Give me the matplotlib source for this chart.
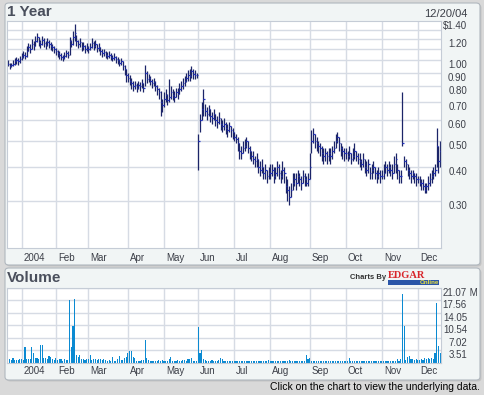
import matplotlib.pyplot as plt
from matplotlib.patches import FancyBboxPatch, Rectangle
from matplotlib.ticker import NullLocator
import numpy as np

W, H = 484, 395

# daily bars, 19 Dec 2003 .. 20 Dec 2004 (one row per month)
price_hi = [
    [1.00, 0.98, 0.98, 1.00, 1.02, 1.03, 1.02, 1.04],
    [1.06, 1.08, 1.07, 1.13, 1.16, 1.15, 1.20, 1.18, 1.23, 1.26, 1.22, 1.19, 1.23, 1.21, 1.18, 1.21, 1.19, 1.17, 1.15, 1.13],
    [1.11, 1.09, 1.08, 1.06, 1.05, 1.07, 1.09, 1.08, 1.22, 1.19, 1.28, 1.36, 1.24, 1.19, 1.21, 1.17, 1.17, 1.14, 1.16],
    [1.13, 1.16, 1.21, 1.18, 1.19, 1.15, 1.16, 1.12, 1.10, 1.10, 1.08, 1.07, 1.08, 1.06, 1.05, 1.06, 1.04, 1.03, 1.01, 1.02, 0.99, 0.96, 0.93],
    [0.90, 0.88, 0.86, 0.84, 0.84, 0.82, 0.84, 0.83, 0.85, 0.82, 0.96, 0.91, 0.89, 0.87, 0.85, 0.86, 0.84, 0.81, 0.79, 0.77, 0.72],
    [0.76, 0.78, 0.75, 0.85, 0.80, 0.78, 0.77, 0.79, 0.79, 0.82, 0.84, 0.86, 0.87, 0.90, 0.92, 0.93, 0.95, 0.93, 0.92, 0.90],
    [0.53, 0.63, 0.70, 0.78, 0.69, 0.67, 0.68, 0.66, 0.64, 0.66, 0.63, 0.62, 0.64, 0.61, 0.60, 0.61, 0.59, 0.58, 0.59, 0.57, 0.56],
    [0.54, 0.53, 0.52, 0.49, 0.48, 0.50, 0.51, 0.52, 0.50, 0.48, 0.46, 0.46, 0.44, 0.45, 0.43, 0.42, 0.43, 0.40, 0.41, 0.39, 0.40],
    [0.41, 0.41, 0.40, 0.40, 0.42, 0.41, 0.39, 0.42, 0.40, 0.37, 0.36, 0.34, 0.35, 0.38, 0.38, 0.38, 0.39, 0.38, 0.37, 0.39, 0.38, 0.37, 0.38],
    [0.45, 0.55, 0.56, 0.53, 0.52, 0.50, 0.49, 0.48, 0.47, 0.47, 0.46, 0.47, 0.47, 0.48, 0.50, 0.53, 0.54, 0.52, 0.49, 0.48, 0.47],
    [0.47, 0.46, 0.48, 0.45, 0.47, 0.49, 0.46, 0.45, 0.45, 0.43, 0.45, 0.43, 0.42, 0.43, 0.40, 0.41, 0.42, 0.40, 0.39, 0.40, 0.39],
    [0.39, 0.41, 0.42, 0.41, 0.42, 0.41, 0.41, 0.44, 0.45, 0.41, 0.39, 0.39, 0.76, 0.44, 0.43, 0.41, 0.40, 0.39, 0.39, 0.38, 0.38],
    [0.37, 0.37, 0.36, 0.36, 0.35, 0.35, 0.37, 0.38, 0.39, 0.40, 0.41, 0.56, 0.48, 0.50],
]
price_lo = [
    [0.95, 0.93, 0.94, 0.95, 0.96, 0.97, 0.96, 0.98],
    [1.00, 1.02, 1.01, 1.03, 1.08, 1.06, 1.10, 1.09, 1.13, 1.17, 1.13, 1.11, 1.14, 1.12, 1.10, 1.13, 1.11, 1.09, 1.08, 1.06],
    [1.05, 1.03, 1.01, 1.00, 0.99, 1.01, 1.03, 1.02, 1.05, 1.12, 1.14, 1.18, 1.13, 1.11, 1.12, 1.08, 1.09, 1.06, 1.08],
    [1.06, 1.09, 1.11, 1.09, 1.11, 1.07, 1.08, 1.05, 1.03, 1.04, 1.02, 1.01, 1.02, 1.00, 0.99, 1.00, 0.98, 0.97, 0.95, 0.96, 0.92, 0.88, 0.83],
    [0.83, 0.81, 0.78, 0.77, 0.78, 0.76, 0.78, 0.77, 0.79, 0.76, 0.80, 0.82, 0.83, 0.81, 0.79, 0.80, 0.77, 0.74, 0.72, 0.62, 0.64],
    [0.67, 0.70, 0.68, 0.70, 0.72, 0.71, 0.70, 0.73, 0.72, 0.75, 0.77, 0.78, 0.80, 0.83, 0.84, 0.84, 0.86, 0.85, 0.85, 0.86],
    [0.39, 0.54, 0.60, 0.62, 0.62, 0.60, 0.62, 0.59, 0.58, 0.60, 0.57, 0.56, 0.58, 0.55, 0.54, 0.55, 0.53, 0.52, 0.54, 0.52, 0.51],
    [0.50, 0.49, 0.46, 0.43, 0.43, 0.45, 0.46, 0.47, 0.45, 0.43, 0.42, 0.41, 0.40, 0.40, 0.38, 0.37, 0.38, 0.36, 0.36, 0.35, 0.36],
    [0.36, 0.37, 0.35, 0.36, 0.37, 0.36, 0.35, 0.36, 0.35, 0.32, 0.30, 0.29, 0.31, 0.33, 0.34, 0.33, 0.35, 0.34, 0.33, 0.35, 0.34, 0.34, 0.34],
    [0.36, 0.45, 0.49, 0.47, 0.46, 0.45, 0.44, 0.42, 0.41, 0.42, 0.41, 0.42, 0.41, 0.43, 0.45, 0.47, 0.49, 0.46, 0.44, 0.43, 0.42],
    [0.43, 0.42, 0.43, 0.41, 0.42, 0.43, 0.42, 0.41, 0.40, 0.39, 0.40, 0.38, 0.37, 0.38, 0.36, 0.36, 0.38, 0.36, 0.35, 0.36, 0.35],
    [0.36, 0.36, 0.38, 0.37, 0.38, 0.37, 0.36, 0.38, 0.38, 0.36, 0.35, 0.35, 0.48, 0.40, 0.39, 0.37, 0.36, 0.35, 0.36, 0.35, 0.34],
    [0.35, 0.34, 0.33, 0.33, 0.32, 0.32, 0.33, 0.34, 0.35, 0.36, 0.37, 0.40, 0.38, 0.40],
]
price_close = [
    [0.97, 0.95, 0.96, 0.97, 0.99, 1.00, 0.99, 1.01],
    [1.03, 1.05, 1.04, 1.08, 1.12, 1.10, 1.15, 1.13, 1.18, 1.22, 1.17, 1.15, 1.19, 1.16, 1.14, 1.17, 1.15, 1.13, 1.12, 1.10],
    [1.08, 1.06, 1.05, 1.03, 1.02, 1.04, 1.06, 1.05, 1.18, 1.15, 1.22, 1.26, 1.18, 1.15, 1.17, 1.12, 1.13, 1.10, 1.12],
    [1.10, 1.12, 1.16, 1.13, 1.15, 1.11, 1.12, 1.08, 1.06, 1.07, 1.05, 1.04, 1.05, 1.03, 1.02, 1.03, 1.01, 1.00, 0.98, 0.99, 0.95, 0.93, 0.88],
    [0.86, 0.84, 0.82, 0.80, 0.81, 0.79, 0.81, 0.80, 0.82, 0.79, 0.90, 0.85, 0.86, 0.84, 0.82, 0.83, 0.80, 0.78, 0.76, 0.70, 0.68],
    [0.72, 0.74, 0.71, 0.73, 0.76, 0.74, 0.73, 0.76, 0.75, 0.78, 0.80, 0.82, 0.84, 0.86, 0.88, 0.87, 0.91, 0.89, 0.88, 0.88],
    [0.50, 0.60, 0.66, 0.72, 0.65, 0.63, 0.66, 0.62, 0.61, 0.63, 0.60, 0.59, 0.61, 0.58, 0.57, 0.58, 0.56, 0.55, 0.57, 0.55, 0.54],
    [0.52, 0.51, 0.49, 0.46, 0.45, 0.47, 0.48, 0.50, 0.47, 0.46, 0.44, 0.43, 0.42, 0.43, 0.40, 0.39, 0.40, 0.38, 0.39, 0.37, 0.38],
    [0.38, 0.39, 0.37, 0.38, 0.40, 0.38, 0.37, 0.39, 0.38, 0.34, 0.33, 0.31, 0.33, 0.35, 0.36, 0.35, 0.37, 0.36, 0.35, 0.37, 0.36, 0.35, 0.36],
    [0.40, 0.50, 0.53, 0.50, 0.49, 0.48, 0.47, 0.45, 0.44, 0.45, 0.44, 0.45, 0.44, 0.46, 0.47, 0.50, 0.52, 0.49, 0.47, 0.46, 0.45],
    [0.45, 0.44, 0.45, 0.43, 0.44, 0.46, 0.44, 0.43, 0.42, 0.41, 0.43, 0.40, 0.39, 0.41, 0.38, 0.39, 0.40, 0.38, 0.37, 0.38, 0.37],
    [0.37, 0.38, 0.40, 0.39, 0.40, 0.39, 0.38, 0.41, 0.43, 0.39, 0.37, 0.37, 0.49, 0.42, 0.41, 0.39, 0.38, 0.37, 0.38, 0.37, 0.36],
    [0.36, 0.35, 0.35, 0.34, 0.33, 0.34, 0.35, 0.36, 0.37, 0.38, 0.39, 0.48, 0.42, 0.46],
]
# volume in millions of shares
volume = [
    [1.2, 1.1, 0.8, 1.2, 0.7, 0.8, 0.7, 0.9],
    [1.0, 0.8, 4.3, 1.0, 0.9, 1.0, 4.3, 2.6, 1.2, 1.2, 1.0, 5.1, 5.1, 1.3, 1.3, 1.0, 1.8, 1.6, 1.0, 0.8],
    [1.2, 0.8, 1.1, 0.9, 0.6, 0.9, 0.8, 0.7, 17.6, 4.3, 10.3, 17.9, 2.1, 1.7, 2.3, 1.0, 0.9, 0.8, 1.0],
    [0.9, 2.3, 0.7, 1.0, 0.9, 0.8, 1.0, 0.9, 0.7, 0.9, 0.8, 0.6, 0.7, 0.6, 1.6, 0.6, 0.5, 0.9, 1.9, 0.8, 0.7, 1.3, 1.7],
    [2.7, 3.3, 3.3, 1.5, 1.2, 0.6, 0.5, 0.6, 0.8, 0.7, 6.4, 1.3, 0.8, 0.6, 0.5, 0.5, 0.6, 0.5, 0.7, 0.6, 0.7],
    [0.6, 0.6, 0.5, 0.9, 1.5, 0.6, 0.5, 0.6, 0.7, 0.6, 0.5, 0.8, 0.7, 0.6, 0.9, 1.0, 1.3, 0.6, 0.5, 0.6],
    [10.0, 2.7, 3.6, 1.0, 0.8, 0.6, 0.6, 0.5, 0.7, 0.6, 0.5, 0.6, 0.7, 1.3, 0.9, 0.6, 0.5, 0.6, 0.6, 0.5, 0.6],
    [0.5, 0.6, 0.5, 0.4, 0.5, 0.6, 0.5, 0.4, 0.5, 0.5, 0.6, 0.4, 0.5, 0.5, 0.4, 0.5, 0.6, 0.5, 0.5, 0.6, 0.8],
    [0.6, 0.5, 0.5, 0.4, 0.6, 0.5, 0.5, 0.6, 0.5, 0.4, 0.5, 0.8, 0.6, 0.5, 0.4, 0.5, 0.5, 0.6, 0.5, 0.4, 0.5, 2.1, 0.9],
    [1.4, 0.6, 0.5, 0.5, 0.6, 0.5, 0.4, 0.5, 0.5, 0.6, 0.5, 0.5, 0.4, 0.5, 0.6, 0.5, 0.5, 0.4, 0.5, 0.5, 0.6],
    [0.5, 0.6, 1.4, 0.5, 0.4, 0.5, 0.6, 0.5, 0.5, 0.4, 0.5, 0.5, 0.6, 0.5, 0.4, 0.5, 0.5, 0.6, 0.5, 0.4, 0.5],
    [0.5, 0.6, 0.5, 0.5, 0.4, 0.6, 0.5, 0.6, 0.5, 1.0, 0.6, 0.9, 19.3, 10.3, 0.8, 1.7, 1.9, 0.9, 1.0, 0.8, 0.9],
    [0.7, 0.8, 0.9, 0.7, 1.4, 0.9, 1.4, 1.1, 1.4, 0.9, 2.7, 16.8, 4.7, 2.7],
]

month_labels = ['2004', 'Feb', 'Mar', 'Apr', 'May', 'Jun', 'Jul', 'Aug', 'Sep', 'Oct', 'Nov', 'Dec']
month_start = [8, 28, 47, 70, 91, 111, 132, 153, 176, 197, 218, 239]   # trading-day index
price_grid = [1.3, 1.2, 1.1, 1.0, 0.9, 0.8, 0.7, 0.6, 0.5, 0.4, 0.3]
price_labels = {1.4: '$1.40', 1.2: '1.20', 1.0: '1.00', 0.9: '0.90', 0.8: '0.80',
                0.7: '0.70', 0.6: '0.60', 0.5: '0.50', 0.4: '0.40', 0.3: '0.30'}
vol_ticks = [3.51, 7.02, 10.54, 14.05, 17.56, 21.07]

hi = np.concatenate(price_hi)
lo = np.concatenate(price_lo)
cl = np.concatenate(price_close)
vol = np.concatenate(volume)
days = np.arange(len(cl))

plt.rcParams['font.family'] = 'Liberation Sans'
fig = plt.figure(figsize=(W / 100, H / 100), dpi=100)
fig.patch.set_facecolor('#d9d9d9')

def fx(x):
    return x / W

def fy(y):
    return 1 - y / H

def rect(x0, y0, x1, y1):
    return [fx(x0), fy(y1), fx(x1) - fx(x0), fy(y0) - fy(y1)]

# panel boxes
for (x0, y0, x1, y1) in [(5, 3, 480, 265), (5, 268, 480, 380)]:
    fig.patches.append(FancyBboxPatch((fx(x0) + 1.5 / W, fy(y1) - 1.5 / H), fx(x1) - fx(x0), fy(y0) - fy(y1),
                                      boxstyle='round,pad=0,rounding_size=0.008', transform=fig.transFigure,
                                      facecolor='#c4c4c4', edgecolor='none', zorder=-3))
    fig.patches.append(FancyBboxPatch((fx(x0), fy(y1)), fx(x1) - fx(x0), fy(y0) - fy(y1),
                                      boxstyle='round,pad=0,rounding_size=0.008', transform=fig.transFigure,
                                      facecolor='#f1f5f5', edgecolor='#b0b7be', lw=0.8, zorder=-2))

grid_c = '#d6dbe4'
txt_c = '#3c3f48'

def style(ax):
    ax.set_facecolor('white')
    ax.set_xlim(-0.5, len(cl) - 0.5)
    ax.set_xticks([])
    ax.set_yticks([])
    ax.yaxis.set_minor_locator(NullLocator())
    for s in ax.spines.values():
        s.set_color('#c5ccd6')
        s.set_linewidth(0.8)
    for m in month_start:
        ax.axvline(m, color=grid_c, lw=1.0, zorder=0)

# price panel
ax = fig.add_axes(rect(7, 21, 441, 248))
ax.set_yscale('log')
style(ax)
ax.set_ylim(0.2, 1.4)
for v in price_grid:
    ax.axhline(v, color=grid_c, lw=1.0, zorder=0)
ax.vlines(days, lo, hi, color='#1c2568', lw=0.9, zorder=2)
ax.hlines(cl, days, days + 0.9, color='#2333c8', lw=0.9, zorder=3)
for v, s in price_labels.items():
    ax.annotate(s, xy=(1, v), xycoords=('axes fraction', 'data'), xytext=(26, -5),
                textcoords='offset pixels', ha='right', va='center', fontsize=7, color=txt_c,
                annotation_clip=False)
for m, s in zip(month_start, month_labels):
    ax.annotate(s, xy=(m, 0), xycoords=('data', 'axes fraction'), xytext=(2, -10),
                textcoords='offset pixels', ha='left', va='center', fontsize=7, color=txt_c,
                annotation_clip=False)

# volume panel
axv = fig.add_axes(rect(7, 287.7, 441, 362.7))
style(axv)
axv.set_ylim(0, 21.07)
for v in vol_ticks:
    axv.axhline(v, color=grid_c, lw=1.0, zorder=0)
axv.bar(days, vol, width=0.65, color='#0b8ad2', zorder=2)
for v in vol_ticks:
    axv.annotate('%.2f' % v, xy=(1, v), xycoords=('axes fraction', 'data'), xytext=(26, -5),
                 textcoords='offset pixels', ha='right', va='center', fontsize=7, color=txt_c,
                 annotation_clip=False)
axv.annotate(' M', xy=(1, vol_ticks[-1]), xycoords=('axes fraction', 'data'), xytext=(26, -5),
             textcoords='offset pixels', ha='left', va='center', fontsize=7, color=txt_c,
             annotation_clip=False)
for m, s in zip(month_start, month_labels):
    axv.annotate(s, xy=(m, 0), xycoords=('data', 'axes fraction'), xytext=(2, -8.5),
                 textcoords='offset pixels', ha='left', va='center', fontsize=7, color=txt_c,
                 annotation_clip=False)

# titles and captions
fig.text(fx(7), fy(12.5), '1 Year', fontsize=11, fontweight='bold', color='#4a4f5c', va='center')
fig.text(fx(467), fy(14), '12/20/04', fontsize=8, color=txt_c, ha='right', va='center')
fig.text(fx(7), fy(278.5), 'Volume', fontsize=11, fontweight='bold', color='#4a4f5c', va='center')
fig.text(fx(480), fy(387), 'Click on the chart to view the underlying data.', fontsize=7.5,
         color='black', ha='right', va='center')

# Charts By EDGAR Online badge
fig.text(fx(386), fy(277.5), 'Charts By', fontsize=5.5, fontweight='bold', color='#333333', ha='right', va='center')
fig.patches.append(Rectangle((fx(388), fy(284.5)), fx(439) - fx(388), 4.5 / H, transform=fig.transFigure,
                             facecolor='#2a55a8', edgecolor='none', zorder=3))
fig.text(fx(388), fy(275), 'EDGAR', fontsize=7.5, fontweight='bold', family='Liberation Serif',
         color='#d8262b', ha='left', va='center', zorder=4)
fig.text(fx(439), fy(282.3), 'Online', fontsize=4.5, fontweight='bold', color='#e8e040',
         ha='right', va='center', zorder=4)

fig.savefig('out.png', dpi=100, facecolor=fig.get_facecolor())
